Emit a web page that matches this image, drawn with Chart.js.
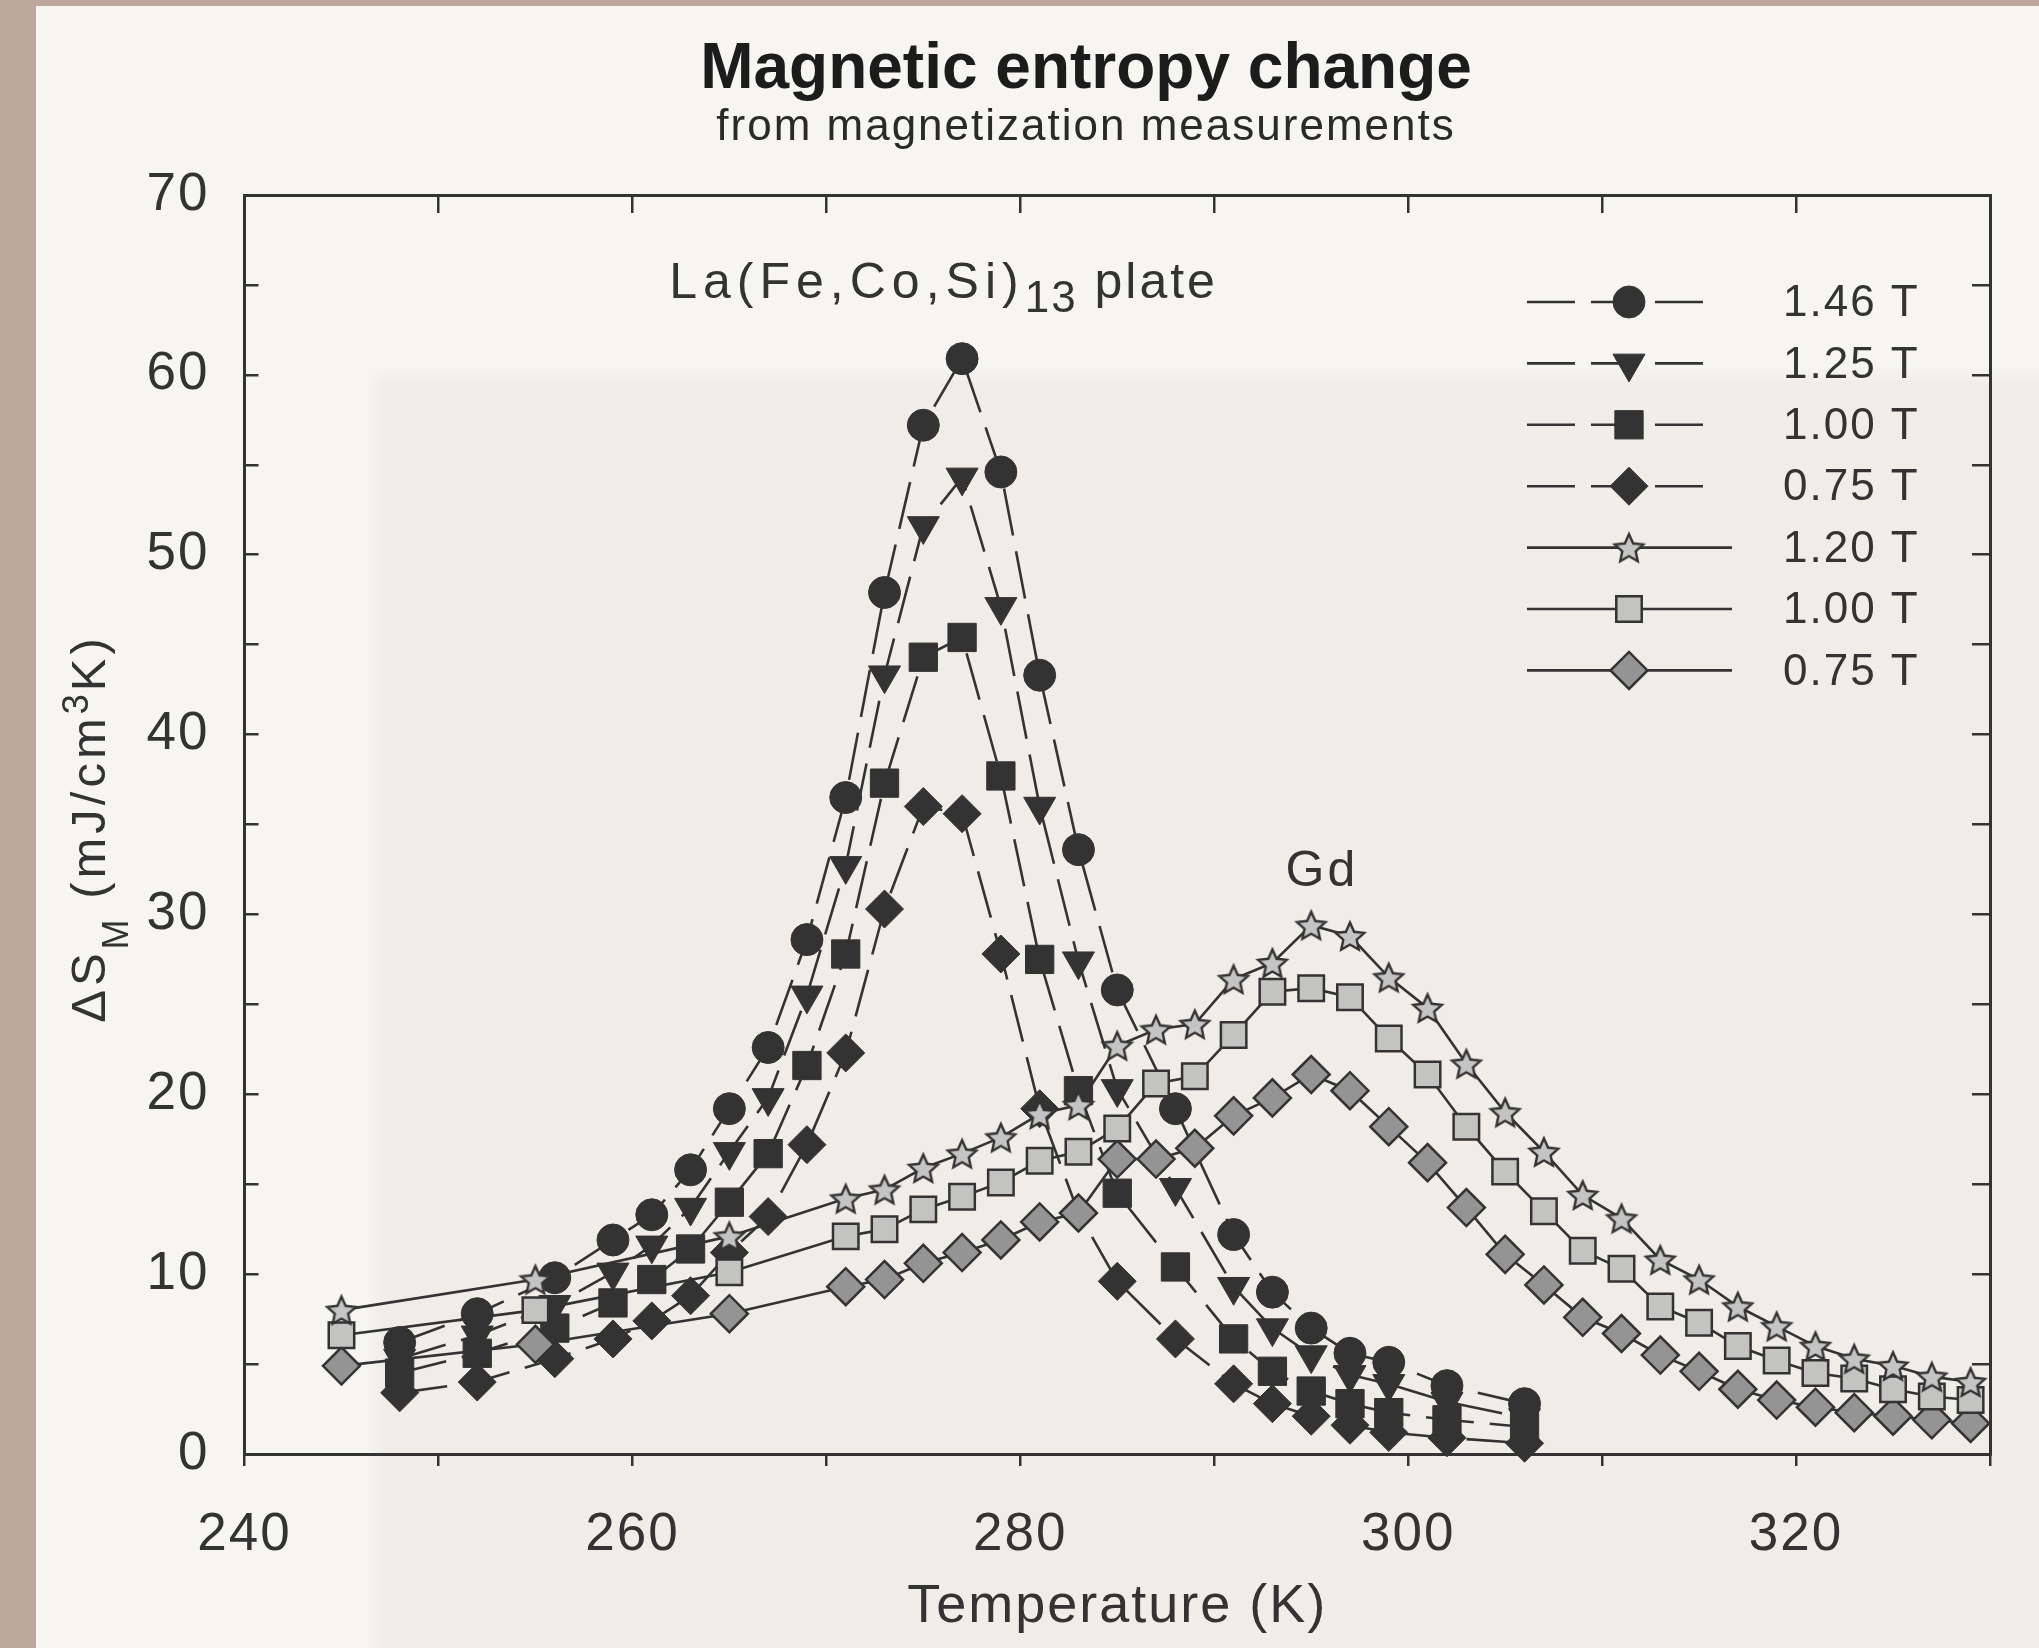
<!DOCTYPE html>
<html>
<head>
<meta charset="utf-8">
<title>Magnetic entropy change</title>
<script src="https://cdn.jsdelivr.net/npm/chart.js@4.4.1/dist/chart.umd.min.js"></script>
<style>
  html, body { margin: 0; padding: 0; }
  body { width: 2039px; height: 1648px; position: relative; overflow: hidden; background: #bea89b; }
  #paper { position: absolute; left: 36px; top: 6px; right: 0; bottom: 0; background: #f6f5f2; }
  #shade { position: absolute; left: 345px; top: 375px; right: 0; bottom: 0; background: #f0ede8; box-shadow: 0 0 14px 6px #f0ede8; }
  #chart { position: absolute; left: 0; top: 0; }
</style>
</head>
<body>
<div id="paper"><div id="shade"></div></div>
<canvas id="chart" width="2039" height="1648"></canvas>
<script>
// La(Fe,Co,Si)13 plate, dashed curves
const tempLa = [248, 252, 256, 259, 261, 263, 265, 267, 269, 271, 273, 275, 277, 279, 281, 283, 285, 288, 291, 293, 295, 297, 299, 302, 306];
const la146 = [6.2, 7.8, 9.8, 11.9, 13.3, 15.8, 19.2, 22.6, 28.6, 36.5, 47.9, 57.2, 60.9, 54.6, 43.3, 33.6, 25.8, 19.2, 12.2, 9.0, 7.0, 5.6, 5.1, 3.8, 2.8];
const la125 = [5.3, 6.6, 8.3, 10.1, 11.6, 13.7, 16.8, 19.8, 25.5, 32.7, 43.3, 51.6, 54.3, 47.1, 36.0, 27.4, 20.3, 14.8, 9.3, 7.0, 5.5, 4.4, 3.9, 2.9, 2.0];
const la100 = [4.5, 5.6, 7.0, 8.4, 9.7, 11.4, 14.0, 16.7, 21.6, 27.8, 37.3, 44.3, 45.4, 37.7, 27.5, 20.2, 14.5, 10.4, 6.4, 4.6, 3.5, 2.8, 2.3, 1.9, 1.5];
const la075 = [3.4, 4.0, 5.3, 6.4, 7.4, 8.8, 11.2, 13.2, 17.2, 22.3, 30.3, 36.0, 35.6, 27.8, 19.2, 13.4, 9.6, 6.4, 3.9, 2.8, 2.1, 1.6, 1.2, 0.9, 0.6];

// Gd reference, solid curves
const tempGd = [245, 255, 265, 271, 273, 275, 277, 279, 281, 283, 285, 287, 289, 291, 293, 295, 297, 299, 301, 303, 305, 307, 309, 311, 313, 315, 317, 319, 321, 323, 325, 327, 329];
const gd120 = [8.0, 9.7, 12.1, 14.2, 14.7, 15.9, 16.7, 17.6, 18.9, 19.4, 22.7, 23.6, 23.9, 26.4, 27.3, 29.4, 28.8, 26.5, 24.8, 21.7, 19.0, 16.8, 14.4, 13.1, 10.8, 9.7, 8.2, 7.1, 6.0, 5.3, 4.9, 4.3, 4.0];
const gd100 = [6.6, 8.0, 10.1, 12.1, 12.5, 13.6, 14.3, 15.1, 16.3, 16.8, 18.1, 20.6, 21.0, 23.3, 25.7, 25.9, 25.4, 23.1, 21.1, 18.2, 15.7, 13.5, 11.3, 10.3, 8.2, 7.3, 6.0, 5.2, 4.5, 4.2, 3.6, 3.2, 3.0];
const gd075 = [4.9, 6.1, 7.8, 9.3, 9.7, 10.6, 11.2, 11.9, 12.9, 13.4, 16.4, 16.4, 17.0, 18.8, 19.8, 21.1, 20.2, 18.2, 16.2, 13.7, 11.1, 9.4, 7.6, 6.7, 5.5, 4.6, 3.6, 3.0, 2.6, 2.3, 2.1, 1.9, 1.7];

const seriesLabels = ['1.46 T', '1.25 T', '1.00 T', '0.75 T', '1.20 T', '1.00 T', '0.75 T'];

const FONT = '"Liberation Sans", Arial, Helvetica, sans-serif';
const INK = '#333333';

// five pointed star marker (Chart.js "star" is an asterisk)
function makeStar(r) {
  const c = document.createElement('canvas');
  const s = Math.ceil(2 * r + 6);
  c.width = s; c.height = s;
  const g = c.getContext('2d');
  g.beginPath();
  for (let i = 0; i < 10; i++) {
    const a = -Math.PI / 2 + i * Math.PI / 5;
    const rr = i % 2 ? r * 0.47 : r;
    g.lineTo(s / 2 + rr * Math.cos(a), s / 2 + 1.5 + rr * Math.sin(a));
  }
  g.closePath();
  g.fillStyle = '#c4c4c4';
  g.fill();
  g.lineWidth = 2.4;
  g.strokeStyle = INK;
  g.stroke();
  return c;
}
const starImg = makeStar(15);

function pts(xs, ys) {
  return xs.map((x, i) => ({ x: x, y: ys[i] }));
}

function laSet(i, vals, style, radius, rotation) {
  return {
    label: seriesLabels[i], data: pts(tempLa, vals),
    borderColor: INK, borderWidth: 2.6, borderDash: [48, 16],
    pointStyle: style, pointRadius: radius, pointRotation: rotation || 0,
    pointBackgroundColor: INK, pointBorderColor: INK, pointBorderWidth: 1,
    clip: false, order: 2
  };
}

function gdSet(i, vals, style, radius, fill) {
  return {
    label: seriesLabels[i], data: pts(tempGd, vals),
    borderColor: INK, borderWidth: 2.6,
    pointStyle: style, pointRadius: radius,
    pointBackgroundColor: fill, pointBorderColor: INK, pointBorderWidth: 2.5,
    clip: false, order: 1
  };
}

// draws a row of text pieces (sub/superscripts), returns the total width
function runs(ctx, parts, x, y, measureOnly) {
  let cx = x;
  parts.forEach(p => {
    ctx.font = (p.bold ? 'bold ' : '') + p.size + 'px ' + FONT;
    ctx.letterSpacing = (p.sp || 0) + 'px';
    if (!measureOnly) ctx.fillText(p.t, cx, y + (p.dy || 0));
    cx += ctx.measureText(p.t).width;
  });
  return cx - x;
}

const spacing = {
  id: 'spacing',
  beforeLayout(chart) { chart.ctx.letterSpacing = '2px'; },
  beforeDraw(chart) { chart.ctx.letterSpacing = '2px'; }
};

const texts = {
  id: 'texts',
  afterDraw(chart) {
    const ctx = chart.ctx;
    const xs = chart.scales.x, ys = chart.scales.y;
    const area = chart.chartArea;
    ctx.save();
    ctx.fillStyle = '#1c1c1c';
    ctx.textBaseline = 'alphabetic';
    ctx.textAlign = 'left';

    // title + subtitle
    const title = [{ t: 'Magnetic entropy change', size: 64, bold: true }];
    const sub = [{ t: 'from magnetization measurements', size: 44, sp: 2 }];
    const tc = 1086;
    runs(ctx, title, tc - runs(ctx, title, 0, 0, true) / 2, 88);
    ctx.fillStyle = '#2a2a2a';
    runs(ctx, sub, tc - runs(ctx, sub, 0, 0, true) / 2, 140);

    // y axis title, rotated
    ctx.fillStyle = INK;
    const yt = [
      { t: '\u0394S', size: 49, sp: 4 },
      { t: 'M', size: 36, dy: 23, sp: 3 },
      { t: ' (mJ/cm', size: 49, sp: 4 },
      { t: '3', size: 36, dy: -17, sp: 3 },
      { t: 'K)', size: 49, sp: 4 }
    ];
    const w = runs(ctx, yt, 0, 0, true);
    ctx.translate(105, (area.top + area.bottom) / 2 + 4);
    ctx.rotate(-Math.PI / 2);
    runs(ctx, yt, -w / 2, 0);
    ctx.setTransform(1, 0, 0, 1, 0, 0);

    // curve annotations
    runs(ctx, [
      { t: 'La(Fe,Co,Si)', size: 50, sp: 6 },
      { t: '13', size: 44, dy: 14, sp: 2 },
      { t: ' plate', size: 50, sp: 3 }
    ], xs.getPixelForValue(261.9), ys.getPixelForValue(64.25));
    const gd = [{ t: 'Gd', size: 50, sp: 3 }];
    runs(ctx, gd, xs.getPixelForValue(295.55) - runs(ctx, gd, 0, 0, true) / 2, ys.getPixelForValue(31.6));

    // legend: line sample, marker, label
    const x0 = area.right - 463;
    chart.data.datasets.forEach((ds, i) => {
      const y = area.top + 107 + i * 61.4;
      ctx.strokeStyle = INK;
      ctx.lineWidth = 2.6;
      ctx.setLineDash(ds.borderDash || []);
      ctx.beginPath();
      ctx.moveTo(x0, y);
      ctx.lineTo(x0 + (ds.borderDash ? 186 : 205), y);
      ctx.stroke();
      ctx.setLineDash([]);
      ctx.fillStyle = ds.pointBackgroundColor;
      ctx.strokeStyle = ds.pointBorderColor;
      ctx.lineWidth = ds.pointBorderWidth;
      Chart.helpers.drawPoint(ctx, {
        pointStyle: ds.pointStyle, rotation: ds.pointRotation || 0,
        radius: ds.pointRadius, borderWidth: ds.pointBorderWidth
      }, x0 + 102, y);
      ctx.fillStyle = INK;
      ctx.textBaseline = 'middle';
      runs(ctx, [{ t: ds.label, size: 44, sp: 2 }], x0 + 256, y + 2);
      ctx.textBaseline = 'alphabetic';
    });
    ctx.restore();
  }
};

const frameGrid = (len) => ({ drawOnChartArea: false, tickLength: len, color: INK, lineWidth: 2.5 });
const frameBorder = { display: true, color: INK, width: 3 };

new Chart(document.getElementById('chart'), {
  type: 'line',
  data: {
    datasets: [
      laSet(0, la146, 'circle', 16),
      laSet(1, la125, 'triangle', 18.5, 180),
      laSet(2, la100, 'rect', 20),
      laSet(3, la075, 'rectRot', 19),
      gdSet(4, gd120, starImg, 15, '#c4c4c4'),
      gdSet(5, gd100, 'rect', 18, '#c3c3c1'),
      gdSet(6, gd075, 'rectRot', 18.5, '#949494')
    ]
  },
  options: {
    responsive: false,
    animation: false,
    events: [],
    layout: { padding: { top: 195, right: 49, bottom: 0, left: 0 } },
    plugins: { legend: { display: false }, tooltip: { enabled: false } },
    scales: {
      x: {
        type: 'linear', position: 'bottom', min: 240, max: 330,
        grid: frameGrid(12), border: frameBorder,
        ticks: {
          stepSize: 10, autoSkip: false, maxRotation: 0, padding: 38,
          color: INK, font: { family: FONT, size: 53 },
          callback: v => (v % 20 === 0 ? String(v) : '')
        },
        title: {
          display: true, text: 'Temperature (K)', color: INK,
          font: { family: FONT, size: 54 }, padding: { top: 0, bottom: 8 }
        },
        afterFit: s => { s.height = 194; }
      },
      xTop: {
        type: 'linear', position: 'top', min: 240, max: 330,
        grid: frameGrid(-18), border: frameBorder,
        ticks: { stepSize: 10, display: false },
        afterFit: s => { s.height = 0; }
      },
      y: {
        type: 'linear', position: 'left', min: 0, max: 70,
        grid: frameGrid(-14), border: frameBorder,
        ticks: {
          stepSize: 5, autoSkip: false, padding: 49, color: INK,
          font: { family: FONT, size: 53 },
          callback: v => (v % 10 === 0 ? String(v) : '')
        },
        afterFit: s => { s.width = 244.5; }
      },
      yRight: {
        type: 'linear', position: 'right', min: 0, max: 70,
        grid: frameGrid(-18), border: frameBorder,
        ticks: { stepSize: 5, display: false },
        afterFit: s => { s.width = 0; }
      }
    }
  },
  plugins: [spacing, texts]
});
</script>
</body>
</html>
